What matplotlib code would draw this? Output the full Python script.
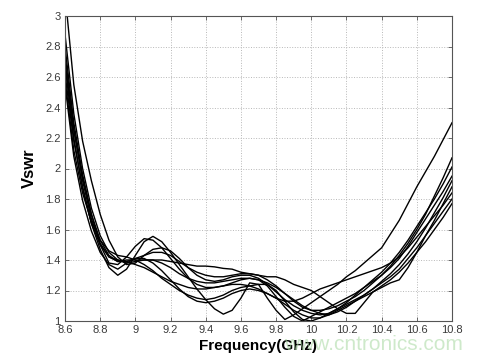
import numpy as np
import matplotlib
matplotlib.use('Agg')
import matplotlib.pyplot as plt

plt.rcParams['font.family'] = ['Liberation Sans', 'DejaVu Sans']

# frequency samples (GHz)
freq = [8.60, 8.65, 8.70, 8.75, 8.80, 8.85, 8.90, 8.95, 9.00, 9.05,
        9.10, 9.15, 9.20, 9.25, 9.30, 9.35, 9.40, 9.45, 9.50, 9.55,
        9.60, 9.65, 9.70, 9.75, 9.80, 9.85, 9.90, 9.95, 10.00, 10.05,
        10.10, 10.15, 10.20, 10.25, 10.30, 10.35, 10.40, 10.45, 10.50, 10.55,
        10.60, 10.65, 10.70, 10.75, 10.80]

vswr_a = [2.62, 2.18, 1.88, 1.64, 1.47, 1.35, 1.30, 1.34, 1.43, 1.52,
          1.555, 1.52, 1.45, 1.37, 1.29, 1.21, 1.14, 1.08, 1.045, 1.07,
          1.15, 1.25, 1.24, 1.15, 1.07, 1.01, 1.04, 1.08, 1.12, 1.16,
          1.20, 1.24, 1.29, 1.33, 1.38, 1.43, 1.48, 1.57, 1.66, 1.77,
          1.88, 1.98, 2.08, 2.19, 2.30]
vswr_b = [2.80, 2.30, 1.96, 1.70, 1.50, 1.38, 1.37, 1.42, 1.49, 1.54,
          1.53, 1.48, 1.41, 1.34, 1.28, 1.24, 1.22, 1.22, 1.23, 1.25,
          1.27, 1.28, 1.27, 1.23, 1.16, 1.09, 1.03, 1.00, 1.03, 1.06,
          1.09, 1.12, 1.15, 1.18, 1.22, 1.26, 1.30, 1.36, 1.43, 1.51,
          1.60, 1.70, 1.82, 1.94, 2.07]
vswr_c = [3.15, 2.55, 2.18, 1.92, 1.70, 1.53, 1.42, 1.37, 1.38, 1.43,
          1.47, 1.48, 1.46, 1.41, 1.35, 1.30, 1.27, 1.26, 1.27, 1.29,
          1.30, 1.30, 1.28, 1.24, 1.19, 1.14, 1.10, 1.07, 1.05, 1.04,
          1.05, 1.08, 1.12, 1.17, 1.22, 1.27, 1.32, 1.38, 1.45, 1.53,
          1.62, 1.71, 1.80, 1.90, 2.01]
vswr_d = [2.70, 2.25, 1.94, 1.70, 1.53, 1.43, 1.39, 1.39, 1.41, 1.43,
          1.45, 1.45, 1.43, 1.39, 1.35, 1.32, 1.30, 1.29, 1.29, 1.30,
          1.31, 1.31, 1.30, 1.27, 1.23, 1.18, 1.13, 1.09, 1.07, 1.07,
          1.08, 1.10, 1.13, 1.16, 1.20, 1.25, 1.30, 1.35, 1.41, 1.49,
          1.58, 1.67, 1.76, 1.85, 1.95]
vswr_e = [2.58, 2.12, 1.84, 1.65, 1.53, 1.46, 1.43, 1.42, 1.40, 1.37,
          1.33, 1.28, 1.24, 1.20, 1.17, 1.15, 1.14, 1.15, 1.17, 1.20,
          1.22, 1.23, 1.24, 1.24, 1.20, 1.13, 1.06, 1.01, 1.00, 1.02,
          1.05, 1.08, 1.11, 1.14, 1.17, 1.21, 1.25, 1.29, 1.34, 1.41,
          1.48, 1.56, 1.64, 1.72, 1.80]
vswr_f = [2.75, 2.26, 1.92, 1.67, 1.51, 1.42, 1.39, 1.40, 1.40, 1.40,
          1.40, 1.40, 1.39, 1.38, 1.37, 1.36, 1.36, 1.355, 1.345, 1.34,
          1.32, 1.31, 1.30, 1.29, 1.29, 1.27, 1.24, 1.22, 1.20, 1.16,
          1.12, 1.08, 1.05, 1.05, 1.12, 1.19, 1.22, 1.25, 1.27, 1.35,
          1.45, 1.56, 1.66, 1.77, 1.88]
vswr_g = [2.68, 2.20, 1.87, 1.64, 1.50, 1.42, 1.40, 1.39, 1.37, 1.35,
          1.32, 1.29, 1.26, 1.24, 1.22, 1.21, 1.21, 1.22, 1.23, 1.24,
          1.24, 1.23, 1.21, 1.18, 1.15, 1.13, 1.13, 1.15, 1.18, 1.21,
          1.23, 1.25, 1.27, 1.29, 1.31, 1.33, 1.35, 1.38, 1.42, 1.48,
          1.55, 1.62, 1.69, 1.76, 1.84]
vswr_h = [2.55, 2.08, 1.79, 1.59, 1.45, 1.37, 1.34, 1.38, 1.41, 1.41,
          1.38, 1.33, 1.27, 1.21, 1.16, 1.13, 1.12, 1.13, 1.15, 1.18,
          1.20, 1.21, 1.20, 1.18, 1.15, 1.11, 1.07, 1.04, 1.02, 1.02,
          1.04, 1.07, 1.10, 1.13, 1.16, 1.19, 1.23, 1.27, 1.32, 1.38,
          1.45, 1.52, 1.60, 1.68, 1.77]
vswr_i = [2.88, 2.36, 2.00, 1.74, 1.56, 1.45, 1.40, 1.38, 1.39, 1.40,
          1.40, 1.38, 1.35, 1.31, 1.28, 1.26, 1.25, 1.25, 1.26, 1.27,
          1.28, 1.28, 1.27, 1.25, 1.22, 1.18, 1.14, 1.10, 1.07, 1.05,
          1.04, 1.06, 1.09, 1.13, 1.17, 1.21, 1.26, 1.31, 1.37, 1.44,
          1.52, 1.61, 1.71, 1.81, 1.92]

curves = [vswr_a, vswr_b, vswr_c, vswr_d, vswr_e, vswr_f, vswr_g, vswr_h, vswr_i]

xticks = [8.6, 8.8, 9.0, 9.2, 9.4, 9.6, 9.8, 10.0, 10.2, 10.4, 10.6, 10.8]
xtick_labels = ['8.6', '8.8', '9', '9.2', '9.4', '9.6', '9.8', '10', '10.2', '10.4', '10.6', '10.8']
yticks = [1.0, 1.2, 1.4, 1.6, 1.8, 2.0, 2.2, 2.4, 2.6, 2.8, 3.0]
ytick_labels = ['1', '1.2', '1.4', '1.6', '1.8', '2', '2.2', '2.4', '2.6', '2.8', '3']

fig = plt.figure(figsize=(4.83, 3.58), dpi=100)
ax = fig.add_axes([65 / 483.0, 1 - 321 / 358.0, 387 / 483.0, 305 / 358.0])

for v in curves:
    ax.plot(freq, v, color='black', lw=1.0)

ax.set_xlim(8.6, 10.8)
ax.set_ylim(1, 3)
ax.set_xticks(xticks)
ax.set_xticklabels(xtick_labels)
ax.set_yticks(yticks)
ax.set_yticklabels(ytick_labels)
ax.tick_params(direction='in', length=3, width=0.6, labelsize=8,
               labelcolor='#3a3a3a', color='#555555', top=True, right=True, pad=3)
ax.grid(True, color='#b8b8b8', linestyle=':', lw=0.7)
for s in ax.spines.values():
    s.set_color('#555555')
    s.set_linewidth(0.8)

ax.set_xlabel('Frequency(GHz)', fontsize=11, fontweight='bold', labelpad=3)
ax.set_ylabel('Vswr', fontsize=12, fontweight='bold', labelpad=6)

# site watermark, partly behind the x label as in the source image
fig.text(463 / 483.0, 1 - 344 / 358.0, 'www.cntronics.com', color='#a6d8a0',
         alpha=0.55, fontsize=15, ha='right', va='center', zorder=0)

fig.savefig('out.png', dpi=100)
